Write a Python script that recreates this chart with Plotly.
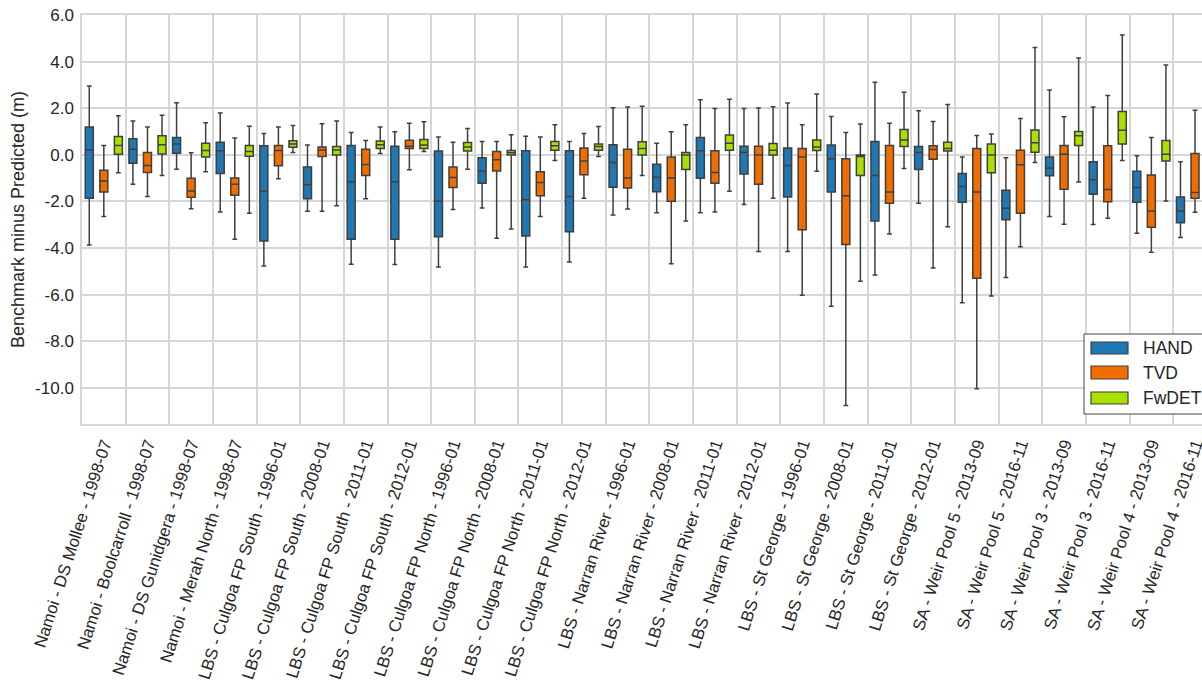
import plotly.graph_objects as go

CATEGORIES = [
    "Namoi - DS Mollee - 1998-07", "Namoi - Boolcarroll - 1998-07",
    "Namoi - DS Gunidgera - 1998-07", "Namoi - Merah North - 1998-07",
    "LBS - Culgoa FP South - 1996-01", "LBS - Culgoa FP South - 2008-01",
    "LBS - Culgoa FP South - 2011-01", "LBS - Culgoa FP South - 2012-01",
    "LBS - Culgoa FP North - 1996-01", "LBS - Culgoa FP North - 2008-01",
    "LBS - Culgoa FP North - 2011-01", "LBS - Culgoa FP North - 2012-01",
    "LBS - Narran River - 1996-01", "LBS - Narran River - 2008-01",
    "LBS - Narran River - 2011-01", "LBS - Narran River - 2012-01",
    "LBS - St George - 1996-01", "LBS - St George - 2008-01",
    "LBS - St George - 2011-01", "LBS - St George - 2012-01",
    "SA - Weir Pool 5 - 2013-09", "SA - Weir Pool 5 - 2016-11",
    "SA - Weir Pool 3 - 2013-09", "SA - Weir Pool 3 - 2016-11",
    "SA - Weir Pool 4 - 2013-09", "SA - Weir Pool 4 - 2016-11",
]

# HAND
HAND_LO = [-3.87, -1.26, -0.62, -2.45, -4.77, -2.42, -4.70, -4.71, -4.81, -2.28, -4.81, -4.60, -2.58,
           -2.49, -2.49, -2.13, -4.15, -6.50, -5.16, -2.08, -6.35, -5.26, -2.65, -2.99, -3.37, -3.55]
HAND_Q1 = [-1.86, -0.36, 0.07, -0.80, -3.70, -1.88, -3.62, -3.62, -3.51, -1.22, -3.48, -3.30, -1.39,
           -1.58, -1.00, -0.82, -1.81, -1.60, -2.84, -0.63, -2.03, -2.79, -0.90, -1.69, -2.03, -2.91]
HAND_MED = [0.21, 0.24, 0.46, 0.17, -1.55, -1.28, -1.16, -1.15, -1.99, -0.69, -1.93, -1.79, -0.33,
            -0.96, 0.17, 0.10, -0.46, -0.17, -0.89, 0.10, -1.36, -2.29, -0.57, -1.07, -1.40, -2.41]
HAND_Q3 = [1.19, 0.69, 0.74, 0.54, 0.39, -0.52, 0.40, 0.37, 0.16, -0.13, 0.17, 0.17, 0.43,
           -0.40, 0.74, 0.37, 0.29, 0.42, 0.57, 0.36, -0.80, -1.52, -0.09, -0.30, -0.70, -1.81]
HAND_HI = [2.95, 1.45, 2.23, 1.79, 0.92, 0.42, 0.96, 0.99, 0.77, 0.57, 0.80, 0.57, 2.02,
           0.50, 2.36, 1.99, 2.22, 1.65, 3.11, 1.89, -0.09, -0.13, 2.78, 2.05, -0.04, -0.30]

# TVD
TVD_LO = [-2.65, -1.79, -2.31, -3.62, -1.03, -2.42, -1.88, -0.64, -2.35, -3.58, -2.65, -1.86, -2.32,
          -4.67, -2.45, -4.15, -6.03, -10.76, -3.40, -4.86, -10.04, -3.94, -2.98, -2.72, -4.18, -2.46]
TVD_Q1 = [-1.60, -0.76, -1.82, -1.73, -0.47, -0.07, -0.89, 0.27, -1.40, -0.69, -1.76, -0.85, -1.42,
          -1.99, -1.22, -1.26, -3.21, -3.85, -2.08, -0.19, -5.30, -2.51, -1.48, -2.01, -3.11, -1.86]
TVD_MED = [-1.12, -0.46, -1.55, -1.26, 0.19, 0.21, -0.42, 0.37, -0.97, -0.21, -1.19, -0.26, -0.99,
           -0.99, -0.76, -0.01, -0.09, -1.76, -1.59, 0.23, -1.59, -0.43, 0.03, -1.49, -2.41, -1.62]
TVD_Q3 = [-0.66, 0.10, -1.00, -0.99, 0.40, 0.34, 0.24, 0.63, -0.52, 0.14, -0.73, 0.29, 0.24,
          -0.09, 0.17, 0.37, 0.27, -0.17, 0.40, 0.39, 0.27, 0.20, 0.40, 0.39, -0.87, 0.06]
TVD_HI = [0.40, 1.19, 0.09, 0.72, 1.19, 1.33, 0.62, 1.35, 0.54, 0.57, 0.77, 0.92, 2.05,
          0.99, 1.99, 2.01, 1.29, 0.96, 1.35, 1.43, 0.83, 1.56, 1.63, 2.55, 0.74, 1.91]

# FwDET
FW_LO = [-0.77, -0.89, -0.73, -2.51, 0.10, -2.19, 0.06, 0.14, -0.62, -3.18, -0.24, -0.07, -0.89,
         -2.84, -1.56, -1.86, -0.70, -5.43, -0.59, -3.09, -6.06, -0.33, -1.17, -0.24, -1.98, -1.00]
FW_Q1 = [0.03, 0.04, -0.09, -0.06, 0.32, -0.01, 0.27, 0.27, 0.16, -0.01, 0.20, 0.20, -0.01,
         -0.63, 0.20, -0.01, 0.19, -0.89, 0.36, 0.16, -0.77, 0.11, 0.40, 0.46, -0.27, -0.20]
FW_MED = [0.40, 0.43, 0.19, 0.14, 0.47, 0.21, 0.43, 0.42, 0.34, 0.09, 0.39, 0.36, 0.27,
          -0.01, 0.50, 0.20, 0.34, -0.07, 0.64, 0.27, -0.01, 0.52, 0.82, 1.05, 0.03, 0.20]
FW_Q3 = [0.79, 0.82, 0.50, 0.40, 0.60, 0.36, 0.59, 0.66, 0.53, 0.19, 0.57, 0.46, 0.56,
         0.10, 0.85, 0.49, 0.64, -0.01, 1.09, 0.54, 0.46, 1.07, 1.00, 1.86, 0.62, 0.60]
FW_HI = [1.68, 1.70, 1.38, 1.23, 1.26, 1.45, 1.19, 1.42, 1.13, 0.86, 1.29, 1.22, 2.08,
         1.29, 2.39, 2.06, 2.61, 1.32, 2.69, 2.16, 0.89, 4.61, 4.15, 5.14, 3.85, 1.80]

SERIES = ["HAND", "TVD", "FwDET"]
COLORS = ["#1f77b4", "#f26d00", "#a9e000"]

Y_TICKS = [6, 4, 2, 0, -2, -4, -6, -8, -10]
Y_TICK_TEXT = ["6.0", "4.0", "2.0", "0.0", "-2.0", "-4.0", "-6.0", "-8.0", "-10.0"]

FONT = "Arial, Liberation Sans, sans-serif"
TEXT_COLOR = "#262626"
EDGE = "#3f3f3f"
GRID = "#d6d6d6"

W, H = 1202, 687
PL, PR, PT, PB = 82, 1202, 15, 424

data = [
    (HAND_LO, HAND_Q1, HAND_MED, HAND_Q3, HAND_HI),
    (TVD_LO, TVD_Q1, TVD_MED, TVD_Q3, TVD_HI),
    (FW_LO, FW_Q1, FW_MED, FW_Q3, FW_HI),
]

fig = go.Figure()
for name, color, (lo, q1, med, q3, hi) in zip(SERIES, COLORS, data):
    fig.add_trace(go.Box(
        name=name, x=CATEGORIES,
        lowerfence=lo, q1=q1, median=med, q3=q3, upperfence=hi,
        boxpoints=False, fillcolor=color,
        line=dict(color=EDGE, width=1.5),
        whiskerwidth=0.6, showlegend=False,
    ))

cat_px = (PR - PL) / 25.66
x_max = -0.5 + (PR - PL) / cat_px

fig.update_layout(
    width=W, height=H,
    margin=dict(l=PL, r=W - PR, t=PT, b=H - PB, autoexpand=False),
    paper_bgcolor="white", plot_bgcolor="white",
    boxmode="group", boxgap=0, boxgroupgap=0.45,
    font=dict(family=FONT, color=TEXT_COLOR),
    xaxis=dict(
        type="category", range=[-0.5, x_max], tickson="boundaries",
        showgrid=True, gridcolor=GRID, gridwidth=1.5,
        showline=True, linecolor=GRID, linewidth=1.5, mirror=True,
        ticks="", tickangle=-72, tickfont=dict(size=16.8, color=TEXT_COLOR),
        ticklabelstandoff=2,
    ),
    yaxis=dict(
        range=[-11.55, 6.0], tickvals=Y_TICKS, ticktext=Y_TICK_TEXT,
        showgrid=True, gridcolor=GRID, gridwidth=1.5, zeroline=False,
        showline=True, linecolor=GRID, linewidth=1.5,
        ticks="", tickfont=dict(size=17, color=TEXT_COLOR), ticklabelstandoff=3,
        title=dict(text="Benchmark minus Predicted (m)", font=dict(size=18, color=TEXT_COLOR), standoff=6),
    ),
)


def px(x):
    return (x - PL) / (PR - PL)


def py(y):
    return (PB - y) / (PB - PT)


shapes = [dict(type="rect", xref="paper", yref="paper", x0=px(1084), x1=px(1230),
               y0=py(414), y1=py(334), fillcolor="white", line=dict(color="#444444", width=1))]
annotations = []
rows = [(342, 354), (366, 379), (392, 404)]
for name, color, (ya, yb) in zip(SERIES, COLORS, rows):
    shapes.append(dict(type="rect", xref="paper", yref="paper", x0=px(1091), x1=px(1128),
                       y0=py(yb), y1=py(ya), fillcolor=color, line=dict(color=EDGE, width=1.2)))
    annotations.append(dict(xref="paper", yref="paper", x=px(1141), y=py((ya + yb) / 2),
                            text=name, showarrow=False, xanchor="left", yanchor="middle",
                            font=dict(size=17.5, color=TEXT_COLOR, family=FONT)))
fig.update_layout(shapes=shapes, annotations=annotations)

fig.write_html("out.html")
